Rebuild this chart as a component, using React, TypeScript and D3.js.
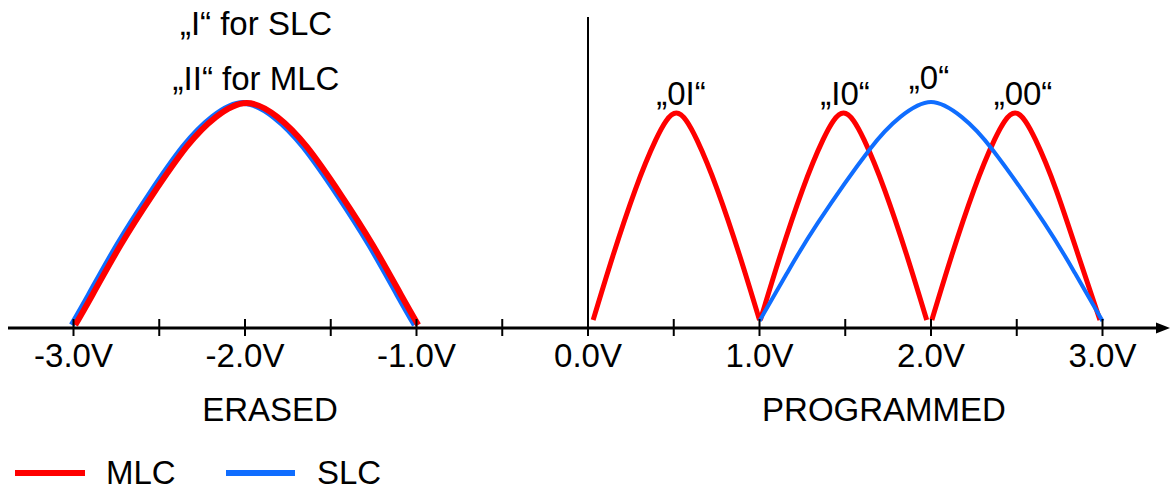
import React from "react";
import * as d3 from "d3";

type Pt = [number, number];

// Tick values (volts) and labels
const tickValues: number[] = [-3, -2.5, -2, -1.5, -1, -0.5, 0, 0.5, 1, 1.5, 2, 2.5, 3];
const labelValues: number[] = [-3, -2, -1, 0, 1, 2, 3];
const labelTexts: string[] = ["-3.0V", "-2.0V", "-1.0V", "0.0V", "1.0V", "2.0V", "3.0V"];

// Erased distributions (volts, relative cell count)
const erasedSLC: Pt[] = [
  [-3.01, 1.3], [-2.91, 14.5], [-2.745, 36.4], [-2.56, 58.3], [-2.36, 79.5], [-2.19, 92.5], [-2.01, 98.7],
  [-1.83, 92.5], [-1.66, 79.5], [-1.46, 58.3], [-1.275, 36.4], [-1.11, 14.5], [-1.01, 1.3],
];
const erasedMLC: Pt[] = [
  [-2.99, 1.3], [-2.89, 14.5], [-2.725, 36.4], [-2.54, 58.3], [-2.34, 79.5], [-2.17, 92.5], [-1.99, 98.7],
  [-1.81, 92.5], [-1.64, 79.5], [-1.44, 58.3], [-1.255, 36.4], [-1.09, 14.5], [-0.99, 1.3],
];

// Programmed distributions
const mlc01: Pt[] = [
  [0.03, 3.5], [0.145, 31.6], [0.275, 60.5], [0.395, 82.5], [0.515, 94.3],
  [0.635, 82.5], [0.755, 60.5], [0.885, 31.6], [1.0, 3.5],
];
const mlc10: Pt[] = [
  [1.005, 3.5], [1.12, 31.6], [1.25, 60.5], [1.37, 82.5], [1.49, 94.3],
  [1.61, 82.5], [1.73, 60.5], [1.86, 31.6], [1.975, 3.5],
];
const mlc00: Pt[] = [
  [2.005, 3.5], [2.12, 31.6], [2.25, 60.5], [2.37, 82.5], [2.49, 94.3],
  [2.61, 82.5], [2.73, 60.5], [2.86, 31.6], [2.985, 3.5],
];
const slc0: Pt[] = [
  [1.0, 3.1], [1.16, 24], [1.34, 46.1], [1.64, 78.1], [1.82, 92.5], [2.0, 99.1],
  [2.18, 92.5], [2.36, 78.1], [2.66, 46.1], [2.84, 24], [3.0, 3.1],
];

const RED = "#ff0000";
const BLUE = "#0f6dff";
const FONT = "'Liberation Sans', Arial, Helvetica, sans-serif";

export default function App() {
  const W = 1170;
  const H = 488;
  const x = d3.scaleLinear().domain([0, 1]).range([588, 759.5]);
  const y = d3.scaleLinear().domain([0, 100]).range([328, 100]);
  const line = d3
    .line<Pt>()
    .x((d) => x(d[0]))
    .y((d) => y(d[1]))
    .curve(d3.curveNatural);
  const axisY = y(0);
  const fs = 33;

  return (
    <svg
      width={W}
      height={H}
      viewBox={`0 0 ${W} ${H}`}
      style={{ position: "absolute", left: 0, top: 0, background: "#fff" }}
      fontFamily={FONT}
    >
      <rect x={0} y={0} width={W} height={H} fill="#fff" />
      {/* vertical line at 0 V */}
      <line x1={x(0)} x2={x(0)} y1={17} y2={axisY} stroke="#000" strokeWidth={2} />

      {/* erased curves */}
      <path d={line(erasedSLC) || ""} fill="none" stroke={BLUE} strokeWidth={6} />
      <path d={line(erasedMLC) || ""} fill="none" stroke={RED} strokeWidth={6} />

      {/* programmed curves */}
      <path d={line(mlc01) || ""} fill="none" stroke={RED} strokeWidth={5} />
      <path d={line(mlc10) || ""} fill="none" stroke={RED} strokeWidth={5} />
      <path d={line(mlc00) || ""} fill="none" stroke={RED} strokeWidth={5} />
      <path d={line(slc0) || ""} fill="none" stroke={BLUE} strokeWidth={4} />

      {/* axis */}
      <line x1={8} x2={1160} y1={axisY} y2={axisY} stroke="#000" strokeWidth={3} />
      <polygon points={`1156,${axisY - 5.5} 1170,${axisY} 1156,${axisY + 5.5}`} fill="#000" />
      {tickValues.map((v) => (
        <line key={v} x1={x(v)} x2={x(v)} y1={axisY - 9} y2={axisY + 8} stroke="#000" strokeWidth={2} />
      ))}
      {labelValues.map((v, i) => (
        <text key={v} x={x(v)} y={367} fontSize={fs} textAnchor="middle" fill="#000">
          {labelTexts[i]}
        </text>
      ))}

      {/* section labels */}
      <text x={270} y={421} fontSize={fs} textAnchor="middle">ERASED</text>
      <text x={884} y={421} fontSize={fs} textAnchor="middle">PROGRAMMED</text>

      {/* top labels */}
      <text x={256} y={35} fontSize={fs} textAnchor="middle">„I“ for SLC</text>
      <text x={256} y={90} fontSize={fs} textAnchor="middle">„II“ for MLC</text>

      {/* peak labels */}
      <text x={681} y={105} fontSize={fs} textAnchor="middle">„0I“</text>
      <text x={845} y={105} fontSize={fs} textAnchor="middle">„I0“</text>
      <text x={929} y={89} fontSize={fs} textAnchor="middle">„0“</text>
      <text x={1023} y={105} fontSize={fs} textAnchor="middle">„00“</text>

      {/* legend */}
      <line x1={15} x2={85} y1={473} y2={473} stroke={RED} strokeWidth={6} />
      <text x={106} y={484} fontSize={fs}>MLC</text>
      <line x1={226} x2={295} y1={473} y2={473} stroke={BLUE} strokeWidth={6} />
      <text x={317} y={484} fontSize={fs}>SLC</text>
    </svg>
  );
}
